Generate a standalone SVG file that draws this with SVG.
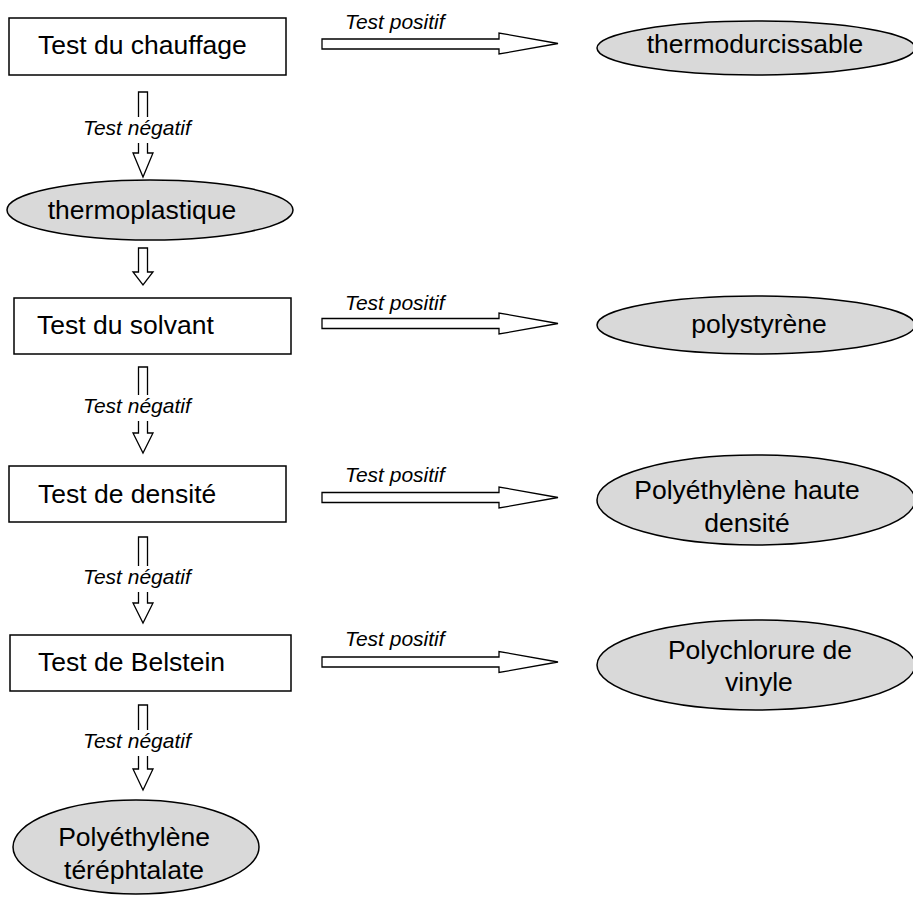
<svg xmlns="http://www.w3.org/2000/svg" width="913" height="900" viewBox="0 0 913 900">
<style>
.box{fill:#fff;stroke:#000;stroke-width:1.5}
.ell{fill:#d9d9d9;stroke:#000;stroke-width:1.5}
.arr{fill:#fff;stroke:#000;stroke-width:1.3}
.t{font-family:"Liberation Sans",Arial,sans-serif;font-size:26.5px;fill:#000}
.lb{font-family:"Liberation Sans",Arial,sans-serif;font-size:21px;font-style:italic;fill:#000}
.bg{fill:#fff}
</style>
<rect width="913" height="900" fill="#fff"/>
<g id="connectors">
  <polygon class="arr" points="322,39 499,39 499,33 558,43.5 499,54 499,49 322,49"/>
  <text class="lb" x="345" y="29">Test positif</text>
  <polygon class="arr" points="322,318.5 499,318.5 499,313 558,323.5 499,334 499,328.5 322,328.5"/>
  <text class="lb" x="345" y="310">Test positif</text>
  <polygon class="arr" points="322,492.5 499,492.5 499,487 558,497.5 499,508 499,502.5 322,502.5"/>
  <text class="lb" x="345" y="482">Test positif</text>
  <polygon class="arr" points="322,657 499,657 499,651.5 558,662 499,672.5 499,667 322,667"/>
  <text class="lb" x="345" y="646">Test positif</text>

  <polygon class="arr" points="138.5,92 147.5,92 147.5,153 153,153 143,177 133,153 138.5,153"/>
  <rect class="bg" x="82" y="117" width="112" height="26"/>
  <text class="lb" x="83" y="135">Test négatif</text>
  <polygon class="arr" points="138.5,248 147.5,248 147.5,272 153,272 143,285 133,272 138.5,272"/>
  <polygon class="arr" points="138.5,367 147.5,367 147.5,433 153,433 143,453 133,433 138.5,433"/>
  <rect class="bg" x="82" y="395" width="112" height="26"/>
  <text class="lb" x="83" y="413">Test négatif</text>
  <polygon class="arr" points="138.5,537 147.5,537 147.5,603 153,603 143,623 133,603 138.5,603"/>
  <rect class="bg" x="82" y="566" width="112" height="26"/>
  <text class="lb" x="83" y="584">Test négatif</text>
  <polygon class="arr" points="138.5,705 147.5,705 147.5,769 153,769 143,790 133,769 138.5,769"/>
  <rect class="bg" x="82" y="730" width="112" height="26"/>
  <text class="lb" x="83" y="748">Test négatif</text>
</g>
<g id="n-chauffage">
  <rect class="box" x="9" y="18" width="277" height="57"/>
  <text class="t" x="38" y="54">Test du chauffage</text>
</g>
<g id="n-thermodur">
  <ellipse class="ell" cx="756" cy="48" rx="159" ry="27"/>
  <text class="t" x="755" y="53" text-anchor="middle">thermodurcissable</text>
</g>
<g id="n-thermoplast">
  <ellipse class="ell" cx="150" cy="210" rx="143" ry="30"/>
  <text class="t" x="142" y="219" text-anchor="middle">thermoplastique</text>
</g>
<g id="n-solvant">
  <rect class="box" x="14" y="298" width="277" height="56"/>
  <text class="t" x="37" y="334">Test du solvant</text>
</g>
<g id="n-polystyrene">
  <ellipse class="ell" cx="756" cy="325" rx="159" ry="29"/>
  <text class="t" x="759" y="333" text-anchor="middle">polystyrène</text>
</g>
<g id="n-densite">
  <rect class="box" x="9" y="466" width="277" height="56"/>
  <text class="t" x="38" y="503">Test de densité</text>
</g>
<g id="n-pehd">
  <ellipse class="ell" cx="756" cy="500" rx="159" ry="45"/>
  <text class="t" x="747" y="499" text-anchor="middle">Polyéthylène haute</text>
  <text class="t" x="747" y="532" text-anchor="middle">densité</text>
</g>
<g id="n-belstein">
  <rect class="box" x="10" y="635" width="281" height="56"/>
  <text class="t" x="38" y="671">Test de Belstein</text>
</g>
<g id="n-pvc">
  <ellipse class="ell" cx="756" cy="665" rx="159" ry="45"/>
  <text class="t" x="760" y="659" text-anchor="middle">Polychlorure de</text>
  <text class="t" x="759" y="691" text-anchor="middle">vinyle</text>
</g>
<g id="n-pet">
  <ellipse class="ell" cx="136" cy="847" rx="123" ry="47"/>
  <text class="t" x="134" y="846" text-anchor="middle">Polyéthylène</text>
  <text class="t" x="134" y="879" text-anchor="middle">téréphtalate</text>
</g>
</svg>
